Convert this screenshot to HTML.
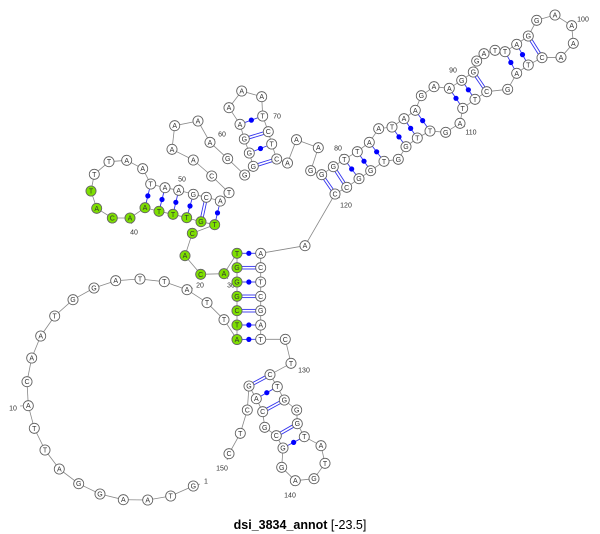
<!DOCTYPE html>
<html><head><meta charset="utf-8"><style>
html,body{margin:0;padding:0;background:#fff;}
svg{display:block;}
</style></head><body>
<svg id="s" width="600" height="534" viewBox="0 0 600 534" xmlns="http://www.w3.org/2000/svg" font-family="Liberation Sans, sans-serif">
<text x="300" y="529" text-anchor="middle" font-size="12.5" fill="#000"><tspan font-weight="bold">dsi_3834_annot</tspan> [-23.5]</text>
</svg>
<script>
var N=[null,
[193.3,486,'G'],[170.7,496,'T'],[147.7,500,'A'],[123.3,499.7,'A'],[100,494,'G'],[78.7,483.7,'G'],[59.3,469,'A'],[45,450,'T'],[34.3,428.3,'T'],[28.3,405.7,'A'],
[27,381.7,'C'],[31.7,358,'A'],[40.7,336,'A'],[54.7,316,'T'],[73,299.7,'G'],[94,288,'G'],[115.7,280.7,'A'],[140,279,'T'],[164.3,281.7,'T'],[187,289.7,'A'],
[207,302.7,'T'],[224,319.7,'T'],[237,339.5,'A',1],[237,325,'T',1],[237,310.7,'C',1],[237,296.3,'G',1],[237,282,'G',1],[237,267.7,'G',1],[237,253.3,'T',1],[224,273.7,'A',1],
[200.7,274.3,'C',1],[185,255.7,'A',1],[192.3,233.3,'C',1],[214.7,224.7,'T',1],[201,221.7,'G',1],[186.7,217.7,'T',1],[173,214.3,'T',1],[159,211.3,'T',1],[145,207.7,'A',1],[130,218,'A',1],
[112.3,218,'C',1],[96.7,208.3,'A',1],[91,191,'T',1],[94.3,174.3,'T'],[109,161.7,'T'],[126.7,160.3,'A'],[142.7,168.7,'A'],[150.7,184,'T'],[165,187.7,'A'],[178.7,190.3,'A'],
[193.3,194.3,'G'],[206.3,197.3,'C'],[220.3,201,'A'],[229,192.7,'T'],[211.7,176,'C'],[193.3,160,'A'],[172,149.3,'A'],[174.7,125.7,'A'],[198,121,'A'],[210,142.3,'A'],
[227.7,158.7,'G'],[244.7,175,'G'],[253.3,166.3,'G'],[249.3,153,'G'],[244.3,139,'G'],[240,124.3,'A'],[229,107.7,'A'],[241.7,91,'A'],[261.7,96.7,'A'],[262.7,116,'T'],
[268.3,131.7,'C'],[271.7,144,'T'],[276.7,159,'C'],[287.5,163,'A'],[296.5,139.7,'A'],[318.3,147.7,'A'],[310.7,170.7,'G'],[321.7,174.7,'G'],[333.3,166.7,'G'],[344.3,159.3,'T'],
[357.3,151.7,'T'],[369.3,142.3,'A'],[378.7,128.7,'A'],[392,127,'T'],[404,118.7,'A'],[415.3,110.3,'A'],[421.3,95.7,'G'],[434,86.7,'A'],[449.3,88.3,'A'],[461.7,80.3,'G'],
[473.3,72,'G'],[476.7,61,'G'],[484,53.7,'A'],[495,50.3,'T'],[505,51.7,'T'],[516.7,44.3,'A'],[528.3,36,'G'],[536.7,20.3,'G'],[555,15,'A'],[571.7,25.7,'A'],
[573.3,43.3,'A'],[561,57.3,'A'],[542,57.7,'C'],[528.3,65,'T'],[516.7,73.3,'A'],[507.7,89.3,'G'],[486.7,91.7,'C'],[475,99.3,'T'],[462.7,108.3,'T'],[460,123.3,'A'],
[445.7,132.3,'G'],[430,131,'T'],[417.3,138,'T'],[406,146.7,'G'],[398.3,159.3,'G'],[384,161.3,'T'],[370.7,170.7,'G'],[359,178.7,'G'],[346.7,187.3,'C'],[335,194,'C'],
[305,245.7,'A'],[260.7,253.3,'A'],[260.7,267.7,'C'],[260.7,282,'T'],[260.7,296.3,'C'],[260.7,310.7,'G'],[260.7,325,'A'],[260.7,339.3,'T'],[285.3,339.3,'C'],[291,363.3,'T'],
[270,374.7,'C'],[277.3,386.7,'T'],[284.3,400,'G'],[296.7,410,'G'],[297.3,423.7,'G'],[304.3,436.7,'T'],[321,445.7,'A'],[325,463.3,'T'],[314,478.7,'G'],[295.3,480.7,'A'],
[281.7,467.3,'G'],[283,448,'G'],[276.3,435.7,'C'],[264.7,427.3,'G'],[262.7,411.7,'C'],[256.3,398.7,'A'],[249,386,'G'],[247.3,410,'C'],[240.3,433.3,'T'],[229,453.7,'C']];
var P=[[23,128,0],[24,127,0],[25,126,1],[26,125,1],[27,124,0],[28,123,1],[29,122,0],
[39,48,0],[38,49,0],[37,50,0],[36,51,0],[35,52,1],[34,53,0],
[66,70,0],[65,71,1],[64,72,0],[63,73,1],
[78,120,1],[79,119,1],[80,118,0],[81,117,0],[82,116,0],[84,114,0],[85,113,0],[86,112,0],
[89,109,0],[90,108,0],[91,107,1],[95,105,0],[96,104,0],[97,103,1],
[131,147,1],[132,146,0],[133,145,1],[135,143,1],[136,142,0]];
var L=[[1,206,481,200,484],[10,13,408,20,406],[20,200,285,193,288],[30,231,285,228,279],[40,134,232,132,224],[50,182,179,180,184],[60,222,134,215,139],
[70,277,116,268,116],[80,338,148,341,154],[90,453,70,458,76],[100,583,19,576,23],[110,471,132,465,127],[120,346,205,340,198],[130,304,370,296,366],[140,290,495,293,486],[150,222,468,227,460]];
var s='';
// backbone
for(var i=1;i<150;i++){s+='<line x1="'+N[i][0]+'" y1="'+N[i][1]+'" x2="'+N[i+1][0]+'" y2="'+N[i+1][1]+'" stroke="#888" stroke-width="0.8"/>';}
// pairs
P.forEach(function(p){var a=N[p[0]],b=N[p[1]];var dx=b[0]-a[0],dy=b[1]-a[1],d=Math.sqrt(dx*dx+dy*dy),ux=dx/d,uy=dy/d;
var x1=a[0]+ux*5,y1=a[1]+uy*5,x2=b[0]-ux*5,y2=b[1]-uy*5;
if(p[2]){var ox=-uy*1.3,oy=ux*1.3;
s+='<line x1="'+(x1+ox)+'" y1="'+(y1+oy)+'" x2="'+(x2+ox)+'" y2="'+(y2+oy)+'" stroke="#3333ee" stroke-width="0.9"/>';
s+='<line x1="'+(x1-ox)+'" y1="'+(y1-oy)+'" x2="'+(x2-ox)+'" y2="'+(y2-oy)+'" stroke="#3333ee" stroke-width="0.9"/>';}
else{s+='<line x1="'+x1+'" y1="'+y1+'" x2="'+x2+'" y2="'+y2+'" stroke="#3333ee" stroke-width="0.9"/>';
s+='<circle cx="'+(a[0]+b[0])/2+'" cy="'+(a[1]+b[1])/2+'" r="2.6" fill="#0000ff"/>';}});
// nodes
for(var i=1;i<=150;i++){var n=N[i];
s+='<circle cx="'+n[0]+'" cy="'+n[1]+'" r="5" fill="'+(n[3]?'#7ee000':'#fff')+'" stroke="#666" stroke-width="0.8"/>';
s+='<text x="'+n[0]+'" y="'+(n[1]+2.5)+'" font-size="7" text-anchor="middle" fill="#333">'+n[2]+'</text>';}
// labels
L.forEach(function(l){s+='<text x="'+l[1]+'" y="'+(l[2]+2.5)+'" font-size="7" text-anchor="middle" fill="#333">'+l[0]+'</text>';
s+='<line x1="'+l[3]+'" y1="'+l[4]+'" x2="'+N[l[0]][0]+'" y2="'+N[l[0]][1]+'" stroke="#666" stroke-width="0.6" stroke-dasharray="0"/>';});
var g=document.getElementById('s');g.insertAdjacentHTML('beforeend',s);
// redraw nodes on top of label ticks
var t='';for(var i=1;i<=150;i++){var n=N[i];t+='<circle cx="'+n[0]+'" cy="'+n[1]+'" r="5" fill="'+(n[3]?'#7ee000':'#fff')+'" stroke="#666" stroke-width="0.8"/><text x="'+n[0]+'" y="'+(n[1]+2.5)+'" font-size="7" text-anchor="middle" fill="#333">'+n[2]+'</text>';}
g.insertAdjacentHTML('beforeend',t);
</script>
</body></html>
